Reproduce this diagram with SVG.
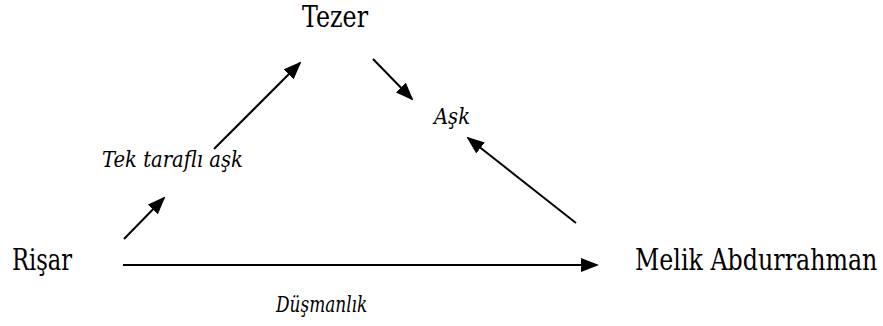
<svg xmlns="http://www.w3.org/2000/svg" width="883" height="326" viewBox="0 0 883 326">
<style>
text{font-family:"DejaVu Serif","Liberation Serif",serif;fill:#000}
.n{font-size:29px}
.l{font-size:22px;font-style:italic}
.c{stroke:#000;stroke-width:2;fill:none;marker-end:url(#ah)}
</style>
<defs>
<marker id="ah" markerWidth="9" markerHeight="7" refX="8" refY="3.5" orient="auto" markerUnits="strokeWidth">
<path d="M0,0 L9,3.5 L0,7 Z" fill="#000"/>
</marker>
</defs>
<rect width="883" height="326" fill="#fff"/>
<g id="tezer"><text class="n" transform="translate(302,27) scale(0.8,1)" textLength="82.5" lengthAdjust="spacingAndGlyphs">Tezer</text></g>
<g id="risar"><text class="n" transform="translate(12,270) scale(0.8,1)" textLength="75" lengthAdjust="spacingAndGlyphs">Rişar</text></g>
<g id="melik"><text class="n" transform="translate(635,270) scale(0.8,1)" textLength="303" lengthAdjust="spacingAndGlyphs">Melik Abdurrahman</text></g>
<g id="connectors">
<line class="c" x1="124" y1="239" x2="164" y2="198"/>
<line class="c" x1="214" y1="149" x2="300" y2="63"/>
<line class="c" x1="373" y1="59" x2="412" y2="99"/>
<line class="c" x1="576" y1="223" x2="468" y2="138"/>
<line class="c" x1="123" y1="265" x2="597" y2="265"/>
</g>
<g id="labels">
<text class="l" transform="translate(102,167) scale(0.8,1)" textLength="176" lengthAdjust="spacingAndGlyphs">Tek taraflı aşk</text>
<text class="l" transform="translate(434,124) scale(0.8,1)" textLength="45" lengthAdjust="spacingAndGlyphs">Aşk</text>
<text class="l" transform="translate(276,312) scale(0.8,1)" textLength="114" lengthAdjust="spacingAndGlyphs">Düşmanlık</text>
</g>
</svg>
